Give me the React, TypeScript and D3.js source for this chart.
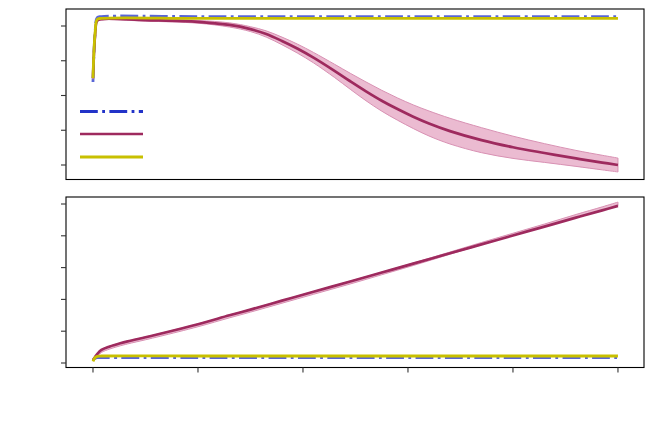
import React from "react";
import * as d3 from "d3";

// ---- data ----
const xTicks = [0, 1, 2, 3, 4, 5];
const yTicksTop = [0, 1, 2, 3, 4];
const yTicksBot = [0, 1, 2, 3, 4, 5];

const topX = [0, 0.02, 0.04, 0.08, 0.5, 1.0, 1.3, 1.5, 1.65, 1.8, 1.95, 2.1, 2.3, 2.45, 2.6, 2.75, 2.9, 3.05, 3.2, 3.4, 3.7, 4.0, 4.3, 4.6, 4.85, 5.0];
const topMean = [2.5, 3.74, 4.15, 4.2, 4.17, 4.12, 4.03, 3.91, 3.77, 3.57, 3.345, 3.09, 2.71, 2.41, 2.12, 1.85, 1.61, 1.39, 1.195, 0.975, 0.715, 0.51, 0.345, 0.19, 0.07, 0.0];
const topLower = [2.47, 3.71, 4.12, 4.17, 4.14, 4.08, 3.97, 3.84, 3.68, 3.46, 3.215, 2.94, 2.52, 2.18, 1.85, 1.55, 1.29, 1.05, 0.835, 0.605, 0.355, 0.19, 0.075, -0.04, -0.14, -0.2];
const topUpper = [2.53, 3.77, 4.18, 4.23, 4.2, 4.16, 4.09, 3.98, 3.86, 3.68, 3.475, 3.24, 2.9, 2.64, 2.39, 2.15, 1.93, 1.73, 1.555, 1.345, 1.075, 0.83, 0.615, 0.42, 0.28, 0.2];

const botX = [0, 0.02, 0.04, 0.08, 0.16, 0.26, 0.33, 0.5, 0.64, 1.0, 1.3, 1.5, 1.8, 2.1, 2.45, 2.75, 3.05, 3.4, 3.7, 4.0, 4.3, 4.6, 4.85, 5.0];
const botMean = [0.09, 0.19, 0.28, 0.41, 0.52, 0.62, 0.68, 0.81, 0.92, 1.22, 1.50, 1.68, 1.96, 2.24, 2.565, 2.845, 3.125, 3.45, 3.73, 4.01, 4.29, 4.57, 4.80, 4.94];
const botLower = [0.06, 0.14, 0.21, 0.33, 0.44, 0.54, 0.60, 0.73, 0.84, 1.14, 1.42, 1.60, 1.88, 2.16, 2.485, 2.775, 3.065, 3.42, 3.72, 4.01, 4.29, 4.57, 4.80, 4.94];
const botUpper = [0.10, 0.20, 0.29, 0.42, 0.53, 0.63, 0.69, 0.82, 0.93, 1.23, 1.51, 1.69, 1.97, 2.25, 2.575, 2.855, 3.145, 3.49, 3.79, 4.08, 4.37, 4.67, 4.91, 5.06];

const flatX = [0, 0.02, 0.04, 0.08, 1, 2, 3, 4, 5];
const topBlue = [2.39, 3.8, 4.24, 4.27, 4.27, 4.27, 4.27, 4.27, 4.27];
const topYellow = [2.5, 3.8, 4.19, 4.22, 4.22, 4.22, 4.22, 4.22, 4.22];
const botBlue = [0.09, 0.15, 0.17, 0.17, 0.17, 0.17, 0.17, 0.17, 0.17];
const botYellow = [0.05, 0.17, 0.21, 0.22, 0.22, 0.22, 0.22, 0.22, 0.22];

// ---- styles ----
const C_BLUE = "#2233c8";
const C_MAG = "#9e2a5e";
const C_YEL = "#c8c000";
const C_BAND = "#ebbbd1";
const C_BAND_EDGE = "#d891b3";

const W = 654, H = 432;
const L = 66, R = 644;
const TOP = { y0: 9, y1: 179.5 };
const BOT = { y0: 197, y1: 367.5 };

export default function App() {
  const x = d3.scaleLinear().domain([-0.257, 5.248]).range([L, R]);
  const yT = d3.scaleLinear().domain([0, 4]).range([165, 26]);
  const yB = d3.scaleLinear().domain([0, 5]).range([363, 204]);
  const curve = d3.curveCatmullRom.alpha(0.5);

  const mkLine = (xs: number[], ys: number[], y: d3.ScaleLinear<number, number>) =>
    d3.line<number>().x((_, i) => x(xs[i])).y((v) => y(v)).curve(curve)(ys) || "";
  const mkArea = (xs: number[], lo: number[], hi: number[], y: d3.ScaleLinear<number, number>) =>
    d3.area<number>().x((_, i) => x(xs[i])).y0((_, i) => y(lo[i])).y1((_, i) => y(hi[i])).curve(curve)(lo) || "";

  const dash = "17.8,4.4,2.8,4.4";

  const panel = (
    id: string,
    box: { y0: number; y1: number },
    y: d3.ScaleLinear<number, number>,
    yt: number[],
    mX: number[], mean: number[], lo: number[], hi: number[],
    blue: number[], yel: number[],
    showX: boolean
  ) => (
    <g>
      <clipPath id={id}>
        <rect x={L} y={box.y0} width={R - L} height={box.y1 - box.y0} />
      </clipPath>
      <g clipPath={`url(#${id})`}>
        <path d={mkLine(flatX, blue, y)} fill="none" stroke={C_BLUE} strokeOpacity={0.75} strokeWidth={2.8} strokeDasharray={dash} />
        <path d={mkArea(mX, lo, hi, y)} fill={C_BAND} stroke={C_BAND_EDGE} strokeWidth={1} />
        <path d={mkLine(mX, mean, y)} fill="none" stroke={C_MAG} strokeWidth={2.7} strokeLinejoin="round" />
        <path d={mkLine(flatX, yel, y)} fill="none" stroke={C_YEL} strokeWidth={2.8} strokeLinejoin="round" />
      </g>
      <rect x={L} y={box.y0} width={R - L} height={box.y1 - box.y0} fill="none" stroke="#000" strokeWidth={1.1} />
      {yt.map((t) => (
        <line key={t} x1={L - 5} x2={L} y1={y(t)} y2={y(t)} stroke="#333" strokeWidth={1.1} />
      ))}
      {showX &&
        xTicks.map((t) => (
          <line key={t} x1={x(t)} x2={x(t)} y1={box.y1} y2={box.y1 + 5} stroke="#333" strokeWidth={1.1} />
        ))}
    </g>
  );

  return (
    <div style={{ position: "fixed", left: 0, top: 0 }}>
      <svg width={W} height={H} style={{ display: "block", background: "#fff" }}>
        {panel("clipTop", TOP, yT, yTicksTop, topX, topMean, topLower, topUpper, topBlue, topYellow, false)}
        {panel("clipBot", BOT, yB, yTicksBot, botX, botMean, botLower, botUpper, botBlue, botYellow, true)}
        {/* legend */}
        <g>
          <line x1={80} x2={143} y1={111.5} y2={111.5} stroke={C_BLUE} strokeWidth={2.8} strokeDasharray={dash} />
          <line x1={80} x2={143} y1={134} y2={134} stroke={C_MAG} strokeWidth={2.7} />
          <line x1={80} x2={143} y1={157} y2={157} stroke={C_YEL} strokeWidth={2.8} />
        </g>
      </svg>
    </div>
  );
}
